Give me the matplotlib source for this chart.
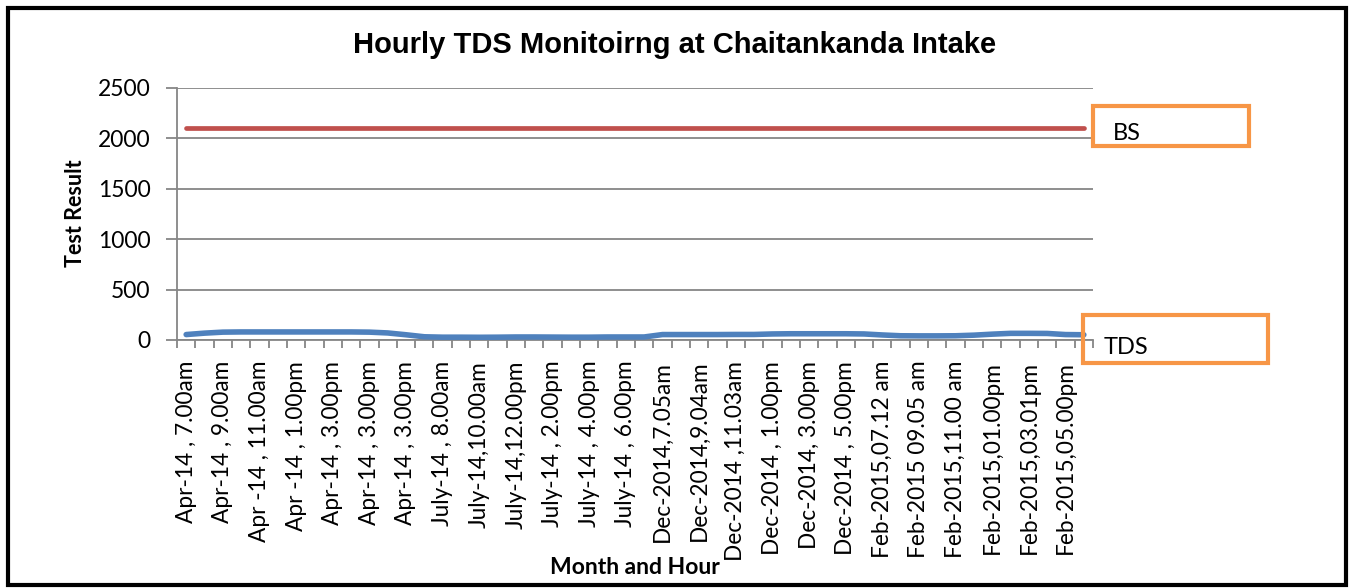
import numpy as np
import matplotlib
matplotlib.use("Agg")
import matplotlib.pyplot as plt
from matplotlib.patches import Rectangle

# category labels (every second category carries a label, as in the original sheet)
tick_labels = [
    "Apr-14 , 7.00am", "Apr-14 , 9.00am", "Apr -14 , 11.00am", "Apr -14 , 1.00pm",
    "Apr-14 , 3.00pm", "Apr-14 , 3.00pm", "Apr-14 , 3.00pm", "July-14 , 8.00am",
    "July-14,10.00am", "July-14,12.00pm", "July-14 , 2.00pm", "July-14 , 4.00pm",
    "July-14 , 6.00pm", "Dec-2014,7.05am", "Dec-2014,9.04am", "Dec-2014 ,11.03am",
    "Dec-2014 , 1.00pm", "Dec-2014, 3.00pm", "Dec-2014 , 5.00pm", "Feb-2015,07.12 am",
    "Feb-2015 09.05 am", "Feb-2015,11.00 am", "Feb-2015,01.00pm", "Feb-2015,03.01pm",
    "Feb-2015,05.00pm",
]

tds = [54, 68, 78, 80, 80, 80, 80, 80, 80, 80, 78, 70, 52, 32,
       28, 28, 27, 28, 30, 30, 29, 28, 28, 30, 30, 30,
       54, 54, 54, 54, 55, 55, 60, 62, 62, 62, 62, 60,
       50, 42, 41, 41, 42, 48, 58, 66, 66, 65, 54, 52]
bs = [2100] * len(tds)

W, H = 1351, 588
fig = plt.figure(figsize=(W / 100, H / 100), dpi=100)

def fx(px):
    return px / W

def fy(py):
    return 1 - py / H

ax = fig.add_axes([fx(177), fy(340), fx(1093) - fx(177), fy(88) - fy(340)])

grid_c = "#868686"
x = np.arange(len(tds))
ax.plot(x, bs, color="#C0504D", lw=3.4, solid_capstyle="round", zorder=3)
ax.plot(x, tds, color="#4F81BD", lw=4.0, solid_capstyle="round",
        solid_joinstyle="round", zorder=3)

ax.set_xlim(-0.5, len(tds) - 0.5)
ax.set_ylim(0, 2500)
ax.set_yticks(np.arange(0, 2501, 500))
ax.yaxis.grid(True, color=grid_c, lw=1.3)
ax.set_axisbelow(True)

ax.set_xticks(x[::2])
ax.set_xticklabels(tick_labels, rotation=90, va="top", ha="center",
                   family="Lato", fontsize=16.3)
ax.set_xticks(np.arange(-0.5, len(tds)), minor=True)
ax.tick_params(axis="x", which="major", length=0, pad=15)
ax.tick_params(axis="x", which="minor", length=6, width=1.3, color=grid_c)
ax.tick_params(axis="y", length=8, width=1.3, color=grid_c, pad=11)
for lab in ax.get_yticklabels():
    lab.set_family("Lato")
    lab.set_fontsize(16.5)

for s in ["top", "right"]:
    ax.spines[s].set_visible(False)
for s in ["left", "bottom"]:
    ax.spines[s].set_color(grid_c)
    ax.spines[s].set_linewidth(1.3)

fig.text(fx(75), fy(213), "Test Result", rotation=90, ha="center", va="center",
         family="Lato", fontweight="bold", fontsize=15.5)
fig.text(fx(635), fy(568), "Month and Hour", ha="center", va="center",
         family="Lato", fontweight="bold", fontsize=16.5)

fig.text(fx(675), fy(45), "Hourly TDS Monitoirng at Chaitankanda Intake",
         ha="center", va="center", family="Liberation Sans", fontweight="bold",
         fontsize=21)

# series name boxes
orange = "#F79646"
for (x0, y0, x1, y1, tx, name) in [(1093, 106, 1249, 146, 1113, "BS"),
                                   (1083, 315, 1268, 363, 1104, "TDS")]:
    fig.add_artist(Rectangle((fx(x0), fy(y1)), fx(x1) - fx(x0), fy(y0) - fy(y1),
                             transform=fig.transFigure, fill=False,
                             ec=orange, lw=3.0))
    fig.text(fx(tx), fy((y0 + y1) / 2 + 8), name, ha="left", va="center",
             family="Lato", fontsize=17)

# outer frame
fig.add_artist(Rectangle((fx(7.5), fy(585)), fx(1345.5) - fx(7.5), fy(7.5) - fy(585),
                         transform=fig.transFigure, fill=False, ec="black", lw=3.0))

fig.savefig("out.png", dpi=100)
